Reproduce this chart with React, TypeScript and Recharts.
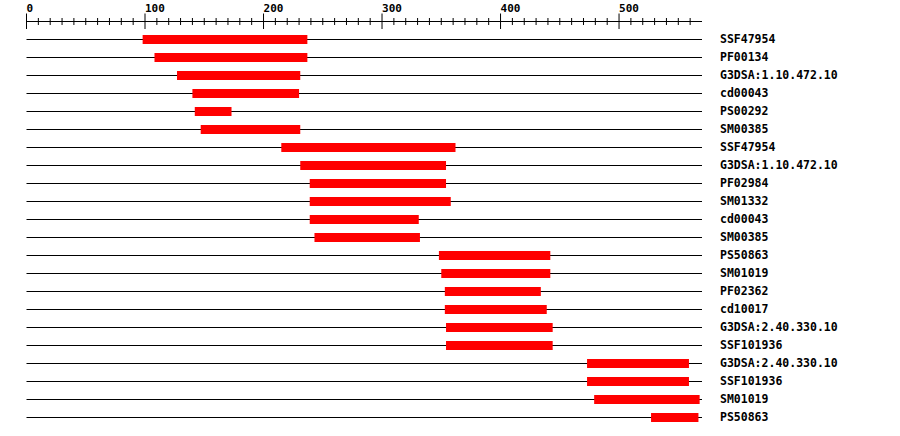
import { BarChart, Bar, XAxis, YAxis } from "recharts";

// domain hits, top to bottom
const labels = [
  "SSF47954",
  "PF00134",
  "G3DSA:1.10.472.10",
  "cd00043",
  "PS00292",
  "SM00385",
  "SSF47954",
  "G3DSA:1.10.472.10",
  "PF02984",
  "SM01332",
  "cd00043",
  "SM00385",
  "PS50863",
  "SM01019",
  "PF02362",
  "cd10017",
  "G3DSA:2.40.330.10",
  "SSF101936",
  "G3DSA:2.40.330.10",
  "SSF101936",
  "SM01019",
  "PS50863",
];
const starts = [98, 108, 127, 140, 142, 147, 215, 231, 239, 239, 239, 243, 348, 350, 353, 353, 354, 354, 473, 473, 479, 527];
const ends = [237, 237, 231, 230, 173, 231, 362, 354, 354, 358, 331, 332, 442, 442, 434, 439, 444, 444, 559, 559, 568, 567];

const seqLength = 570;
const majorTicks = [0, 100, 200, 300, 400, 500];
const axisTicks = Array.from({ length: 57 }, (_, i) => i * 10);

const rows = labels.map((name, i) => ({
  key: String(i),
  name,
  range: [starts[i], ends[i]],
}));

const FONT = "'DejaVu Sans Mono', monospace";

const RulerTick = (props: any) => {
  const { x, y, payload } = props;
  const major = majorTicks.includes(payload.value);
  return (
    <g>
      <line
        x1={x}
        x2={x}
        y1={major ? y - 8 : y - 3.5}
        y2={major ? y + 7.5 : y + 3.5}
        stroke="#000"
        strokeWidth={1}
      />
      {major && (
        <text
          x={x}
          y={y - 9.5}
          textAnchor="start"
          fontFamily={FONT}
          fontWeight="bold"
          fontSize={11}
          fill="#000"
        >
          {payload.value}
        </text>
      )}
    </g>
  );
};

const RowLine = (props: any) => {
  const { x, y, width, height } = props;
  const cy = y + height / 2;
  return <line x1={x} x2={x + width} y1={cy} y2={cy} stroke="#000" strokeWidth={1.2} />;
};

export default function App() {
  return (
    <div style={{ position: "absolute", left: 0, top: 0, background: "#fff" }}>
      <BarChart
        width={900}
        height={436}
        data={rows}
        layout="vertical"
        margin={{ top: 0, right: 8, left: 26.5, bottom: 10 }}
      >
        <XAxis
          type="number"
          orientation="top"
          domain={[0, seqLength]}
          ticks={axisTicks}
          interval={0}
          height={21.5}
          tickLine={false}
          tickSize={0}
          tickMargin={0}
          axisLine={{ stroke: "#000", strokeWidth: 1 }}
          tick={<RulerTick />}
        />
        <YAxis
          type="category"
          dataKey="key"
          orientation="right"
          width={190}
          interval={0}
          padding={{ top: 8.5, bottom: 0 }}
          axisLine={false}
          tickLine={{ stroke: "none" }}
          tickSize={16}
          tickMargin={2}
          tickFormatter={(_v: any, i: number) => labels[i]}
          tick={{ fontFamily: FONT, fontWeight: "bold", fontSize: 11.5, fill: "#000" }}
        />
        <Bar
          dataKey="range"
          fill="#ff0000"
          barSize={9}
          background={<RowLine />}
          isAnimationActive={false}
        />
      </BarChart>
    </div>
  );
}
